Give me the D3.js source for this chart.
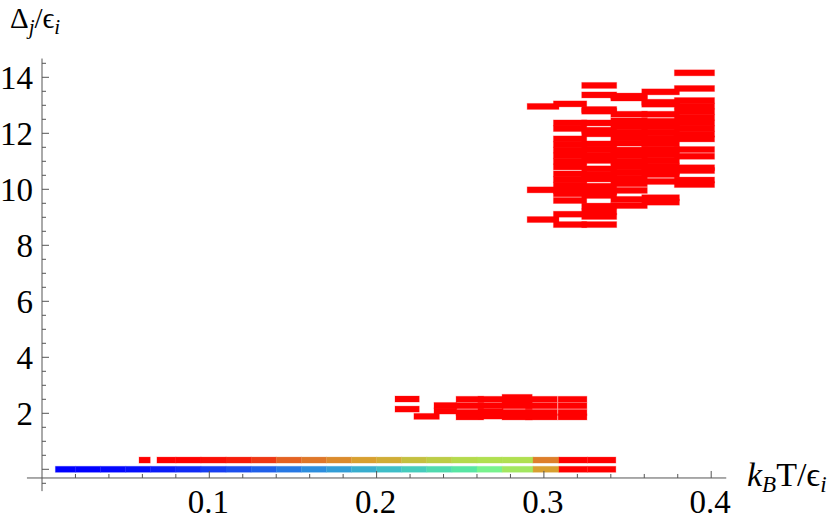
<!DOCTYPE html>
<html>
<head>
<meta charset="utf-8">
<script src="https://cdn.jsdelivr.net/npm/d3@7"></script>
<style>
  body { margin: 0; background: #fff; }
</style>
</head>
<body>
<svg id="chart" width="830" height="521"></svg>
<script>
// two long strips near zero: T bin edges and the colour-coded shade of each bin
var stripLevels = [0, 0.33];
var lowEdges = [0.008, 0.02, 0.035, 0.05, 0.065, 0.08, 0.095, 0.11, 0.125, 0.14, 0.155, 0.17,
    0.185, 0.2, 0.215, 0.23, 0.245, 0.26, 0.275, 0.2935, 0.309, 0.326, 0.343];
var lowShade = [0, 0, 0.01, 0.02, 0.04, 0.06, 0.09, 0.12, 0.16, 0.22, 0.27, 0.31,
    0.35, 0.39, 0.44, 0.5, 0.55, 0.62, 0.72, 0.85, 1, 1];
var upEdges = [0.0687, 0.08, 0.095, 0.11, 0.125, 0.14, 0.155, 0.17, 0.185, 0.2, 0.215,
    0.23, 0.245, 0.26, 0.275, 0.2935, 0.309, 0.326, 0.343];
var upShade = [1, 1, 0.99, 0.98, 0.96, 0.93, 0.91, 0.88, 0.85, 0.83, 0.8,
    0.78, 0.76, 0.75, 0.75, 0.9, 1, 1];
var upDash = [0.058, 0.0647];

// cluster around 2
var midCols = [[0.211, 0.2255], [0.2223, 0.2375], [0.2343, 0.2479], [0.2475, 0.264],
    [0.2606, 0.2756], [0.275, 0.293], [0.289, 0.308], [0.3085, 0.3257]];
var midDeltas = [
    [2.51, 2.15],
    [1.89],
    [2.28, 2.08],
    [2.5, 2.27, 2.03, 1.87],
    [2.5, 2.27, 2.05, 1.9],
    [2.57, 2.45, 2.27, 2.03, 1.87],
    [2.5, 2.27, 2.03, 1.87],
    [2.5, 2.27, 2.03, 1.87]
];

// cluster above 8
var topCols = [[0.290, 0.309], [0.3057, 0.3256], [0.3226, 0.3435], [0.340, 0.3618],
    [0.3585, 0.381], [0.378, 0.402]];
var topDeltas = [
    [12.96, 9.98, 8.92],
    [13.05, 12.37, 12.17, 11.8, 11.6, 11.4, 11.2, 11.0, 10.8, 10.55, 10.35, 10.15, 9.95,
        9.84, 9.6, 9.11, 8.74],
    [13.71, 13.37, 12.85, 12.79, 12.37, 12.11, 11.98, 11.62, 11.42, 11.22, 11.03, 10.73,
        10.53, 10.37, 10.11, 9.91, 9.78, 9.4, 9.2, 9.03, 8.74],
    [13.33, 13.26, 12.68, 12.44, 12.24, 12.04, 11.84, 11.65, 11.4, 11.2, 11.0, 10.8, 10.6,
        10.4, 10.2, 9.96, 9.64, 9.42],
    [13.48, 13.11, 13.04, 12.68, 12.43, 12.23, 12.03, 11.83, 11.63, 11.43, 11.23, 11.03,
        10.83, 10.63, 10.53, 10.28, 9.7, 9.54],
    [14.16, 13.6, 13.17, 12.97, 12.77, 12.57, 12.37, 12.17, 11.97, 11.8, 11.42, 11.18,
        10.77, 10.67, 10.33, 10.17]
];

var xMajor = [0.1, 0.2, 0.3, 0.4];
var xMinor = d3.range(1, 21).map(d => d / 50);
var yMajor = [0, 2, 4, 6, 8, 10, 12, 14];
var yMinor = d3.range(-1, 30).map(d => d / 2);

var serif = "'Liberation Serif', 'Times New Roman', Times, 'DejaVu Serif', serif";

var svg = d3.select('#chart');

var x = d3.scaleLinear().domain([0, 0.4]).range([42, 711.2]);
var y = d3.scaleLinear().domain([0, 14]).range([469.3, 77.3]);

var shade = d3.scaleLinear()
    .domain([0, 0.1, 0.25, 0.4, 0.55, 0.65, 0.75, 0.85, 0.92, 1])
    .range(['#0000ff', '#1a46f0', '#2a86e2', '#40c2c6', '#58e6a4', '#86f884',
        '#b0e050', '#d8a030', '#e07028', '#ff0000']);

var barH = 6;

// flatten everything into bars
var bars = [];
lowShade.forEach((s, i) => bars.push({ lo: lowEdges[i], hi: lowEdges[i + 1], d: stripLevels[0], c: shade(s) }));
upShade.forEach((s, i) => bars.push({ lo: upEdges[i], hi: upEdges[i + 1], d: stripLevels[1], c: shade(s) }));
bars.push({ lo: upDash[0], hi: upDash[1], d: stripLevels[1], c: shade(1) });
midCols.forEach((c, i) => midDeltas[i].forEach(d => bars.push({ lo: c[0], hi: c[1], d: d, c: shade(1) })));
topCols.forEach((c, i) => topDeltas[i].forEach(d => bars.push({ lo: c[0], hi: c[1], d: d, c: shade(1) })));

svg.append('g')
    .selectAll('rect')
    .data(bars)
    .join('rect')
    .attr('x', b => x(b.lo))
    .attr('width', b => x(b.hi) - x(b.lo))
    .attr('y', b => y(b.d) - barH / 2)
    .attr('height', barH)
    .attr('fill', b => b.c)
    .attr('stroke', b => b.c)
    .attr('stroke-opacity', 0.25)
    .attr('stroke-width', 1);

// axes
var axisY = y(-0.31);
var ax = svg.append('g').attr('stroke', '#555').attr('stroke-width', 1);

ax.append('line')
    .attr('x1', x(-0.009)).attr('x2', x(0.409))
    .attr('y1', axisY).attr('y2', axisY);
ax.append('line')
    .attr('x1', x(0)).attr('x2', x(0))
    .attr('y1', y(-0.78)).attr('y2', y(14.67));

ax.selectAll('.xt')
    .data(xMinor)
    .join('line')
    .attr('x1', d => x(d)).attr('x2', d => x(d))
    .attr('y1', axisY)
    .attr('y2', d => axisY - (xMajor.some(m => Math.abs(m - d) < 1e-9) ? 7 : 4));

ax.selectAll('.yt')
    .data(yMinor)
    .join('line')
    .attr('y1', d => y(d)).attr('y2', d => y(d))
    .attr('x1', x(0))
    .attr('x2', d => x(0) + (yMajor.includes(d) ? 7 : 4));

svg.append('g')
    .attr('font-family', serif)
    .selectAll('text')
    .data(xMajor)
    .join('text')
    .attr('x', d => x(d) - 1)
    .attr('y', 513)
    .attr('text-anchor', 'middle')
    .attr('font-size', 33)
    .text(d => d3.format('.1f')(d));

svg.append('g')
    .attr('font-family', serif)
    .selectAll('text')
    .data(yMajor.filter(d => d > 0))
    .join('text')
    .attr('x', 33)
    .attr('y', d => y(d))
    .attr('dy', '0.34em')
    .attr('text-anchor', 'end')
    .attr('font-size', 33)
    .text(d => d);

// axis titles
var yt = svg.append('text').attr('font-family', serif)
    .attr('x', 10).attr('y', 28).attr('font-size', 29);
yt.append('tspan').text('Δ');
yt.append('tspan').attr('font-style', 'italic').attr('font-size', 21).attr('dy', 6).text('j');
yt.append('tspan').attr('dy', -6).text('/ϵ');
yt.append('tspan').attr('font-style', 'italic').attr('font-size', 21).attr('dy', 6).text('i');

var xt = svg.append('text').attr('font-family', serif)
    .attr('x', 747).attr('y', 486).attr('font-size', 34);
xt.append('tspan').attr('font-style', 'italic').text('k');
xt.append('tspan').attr('font-style', 'italic').attr('font-size', 23).attr('dy', 6).text('B');
xt.append('tspan').attr('dy', -6).text('T/ϵ');
xt.append('tspan').attr('font-style', 'italic').attr('font-size', 23).attr('dy', 6).text('i');
</script>
</body>
</html>
